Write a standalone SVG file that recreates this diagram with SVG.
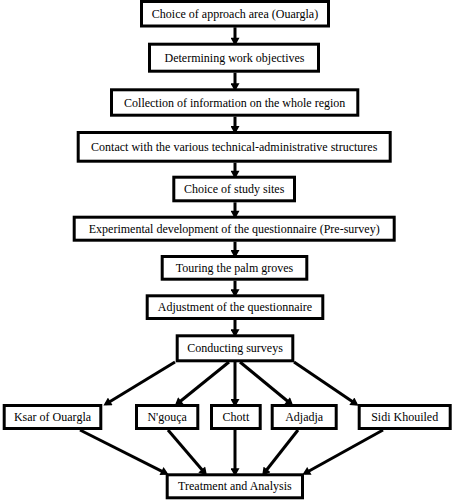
<svg xmlns="http://www.w3.org/2000/svg" width="455" height="500" viewBox="0 0 455 500">
<style>
.box{fill:#fff;stroke:#000;stroke-width:3}
.lbl{font-size:12px;fill:#000;text-anchor:middle}
.conn line{stroke:#000;stroke-width:3;marker-end:url(#ah)}
</style>
<defs>
<marker id="ah" markerUnits="userSpaceOnUse" markerWidth="9" markerHeight="9" viewBox="0 0 8 9" refX="5" refY="4.5" orient="auto">
<path d="M0,0 L8,4.5 L0,9 z" fill="#000"/>
</marker>
</defs>
<rect width="455" height="500" fill="#fff"/>
<g id="connectors" class="conn">
<line x1="235" y1="27.3" x2="235" y2="42.7"/>
<line x1="235" y1="72.7" x2="235" y2="88.3"/>
<line x1="235" y1="116.7" x2="235" y2="131"/>
<line x1="235" y1="162.7" x2="235" y2="175.7"/>
<line x1="235" y1="202.3" x2="235" y2="215.7"/>
<line x1="235" y1="241.7" x2="235" y2="255"/>
<line x1="235" y1="280.7" x2="235" y2="294.3"/>
<line x1="235" y1="320" x2="235" y2="334.3"/>
<line x1="175" y1="362" x2="106" y2="404"/>
<line x1="229" y1="362" x2="177" y2="404"/>
<line x1="235" y1="362" x2="235" y2="404"/>
<line x1="240" y1="362" x2="291" y2="404"/>
<line x1="294" y1="362" x2="356" y2="404"/>
<line x1="80" y1="430" x2="166" y2="473.3"/>
<line x1="168" y1="430" x2="205" y2="473.3"/>
<line x1="235" y1="430" x2="235" y2="473.3"/>
<line x1="298" y1="430" x2="264" y2="473.3"/>
<line x1="383" y1="430" x2="305" y2="473.3"/>
</g>
<g font-family="'Liberation Serif', 'Times New Roman', 'DejaVu Serif', serif">
<g id="n1"><rect class="box" x="141.5" y="1.5" width="187" height="24.5"/><text class="lbl" x="235" y="17.8">Choice of approach area (Ouargla)</text></g>
<g id="n2"><rect class="box" x="149.5" y="44.2" width="169" height="27"/><text class="lbl" x="234.5" y="61.7">Determining work objectives</text></g>
<g id="n3"><rect class="box" x="111.5" y="89.8" width="246.3" height="25.4"/><text class="lbl" x="234.7" y="106.5">Collection of information on the whole region</text></g>
<g id="n4"><rect class="box" x="78.2" y="132.5" width="312" height="28.7"/><text class="lbl" x="234.2" y="150.8">Contact with the various technical-administrative structures</text></g>
<g id="n5"><rect class="box" x="173.8" y="177.2" width="120.7" height="23.6"/><text class="lbl" x="234.2" y="193">Choice of study sites</text></g>
<g id="n6"><rect class="box" x="74.2" y="217.2" width="320" height="23"/><text class="lbl" x="234.2" y="232.7">Experimental development of the questionnaire (Pre-survey)</text></g>
<g id="n7"><rect class="box" x="162.2" y="256.5" width="144.6" height="22.7"/><text class="lbl" x="234.5" y="271.8">Touring the palm groves</text></g>
<g id="n8"><rect class="box" x="147.2" y="295.8" width="175.6" height="22.7"/><text class="lbl" x="235" y="311.2">Adjustment of the questionnaire</text></g>
<g id="n9"><rect class="box" x="177.2" y="335.8" width="115.6" height="25"/><text class="lbl" x="235" y="352.3">Conducting surveys</text></g>
<g id="n10"><rect class="box" x="4.2" y="405.5" width="96.6" height="23"/><text class="lbl" x="52.5" y="421">Ksar of Ouargla</text></g>
<g id="n11"><rect class="box" x="136.5" y="405.5" width="61.3" height="23"/><text class="lbl" x="167.2" y="421">N'gouça</text></g>
<g id="n12"><rect class="box" x="211.5" y="405.5" width="48.7" height="23"/><text class="lbl" x="235.9" y="421">Chott</text></g>
<g id="n13"><rect class="box" x="272.2" y="405.5" width="64" height="23"/><text class="lbl" x="304.2" y="421">Adjadja</text></g>
<g id="n14"><rect class="box" x="359.2" y="405.5" width="91" height="23"/><text class="lbl" x="404.7" y="421">Sidi Khouiled</text></g>
<g id="n15"><rect class="box" x="167.2" y="474.8" width="135.3" height="23"/><text class="lbl" x="234.9" y="490.3">Treatment and Analysis</text></g>
</g>
</svg>
